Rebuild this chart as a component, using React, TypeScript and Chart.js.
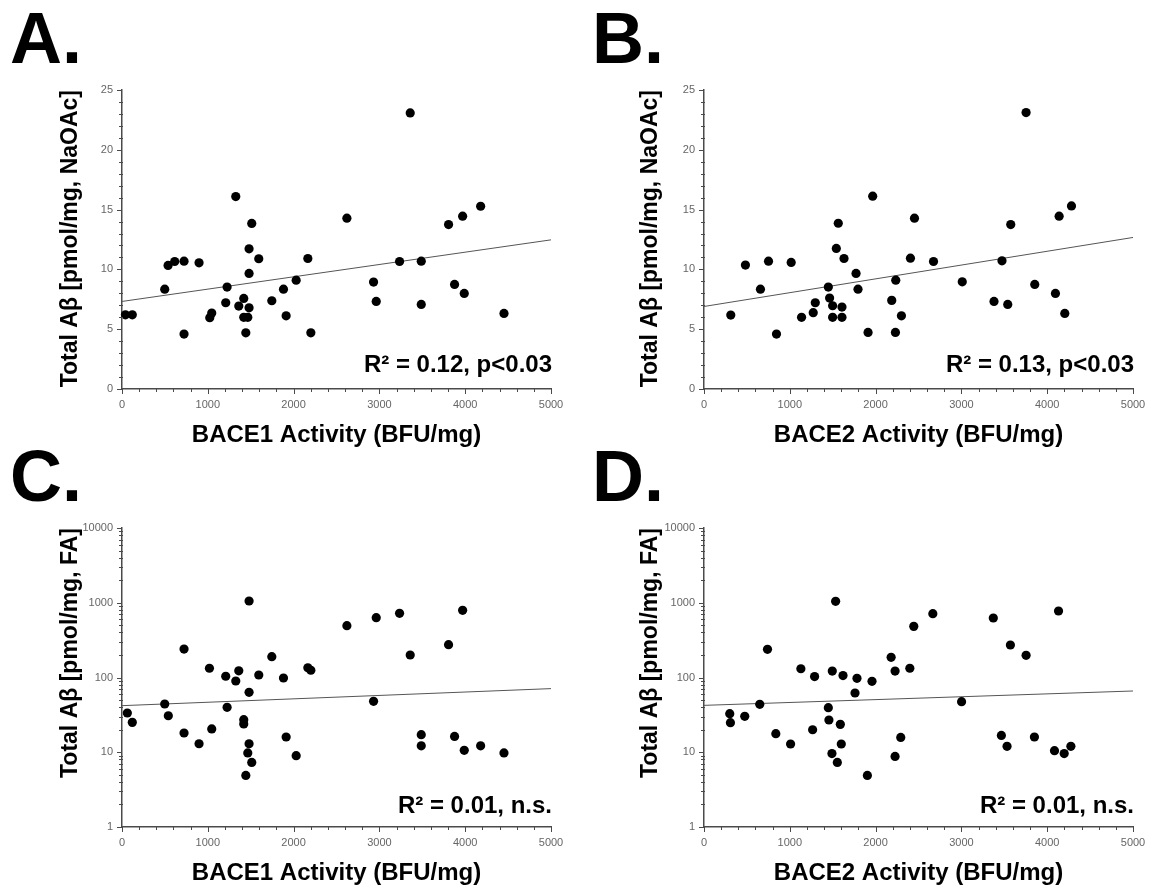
import React, { useEffect, useRef } from 'react';
import { Chart, registerables } from 'chart.js';

Chart.register(...registerables);

const FONT = '"Liberation Sans", Arial, Helvetica, sans-serif';
const AXIS_COLOR = '#4a4a4a';
const TICK_LABEL_COLOR = '#666666';
const LINE_COLOR = '#555555';

// ---------- Panel A: BACE1 activity vs total Aβ (NaOAc) ----------
const bace1A = [40, 120, 498, 537, 614, 723, 723, 898, 1023, 1046, 1209, 1225, 1326, 1361, 1419, 1419, 1466, 1443, 1481, 1481, 1481, 1512, 1594, 1746, 1882, 1913, 2030, 2166, 2201, 2621, 2932, 2963, 3235, 3359, 3488, 3488, 3806, 3876, 3970, 3989, 4180, 4452];
const abetaNaOAcA = [6.2, 6.2, 8.35, 10.33, 10.66, 10.69, 4.59, 10.55, 5.96, 6.35, 7.21, 8.52, 16.09, 6.93, 7.57, 5.99, 5.99, 4.7, 11.72, 9.66, 6.79, 13.84, 10.89, 7.38, 8.35, 6.12, 9.1, 10.91, 4.7, 14.28, 8.94, 7.32, 10.66, 23.08, 10.69, 7.07, 13.75, 8.74, 14.45, 7.99, 15.28, 6.32];
const fitA = [7.32, 12.47];

// ---------- Panel B: BACE2 activity vs total Aβ (NaOAc) ----------
const bace2B = [312, 483, 658, 752, 845, 1016, 1137, 1273, 1297, 1449, 1464, 1499, 1499, 1542, 1565, 1608, 1608, 1632, 1772, 1795, 1912, 1966, 2188, 2235, 2231, 2301, 2406, 2453, 2675, 3010, 3380, 3473, 3540, 3575, 3855, 3754, 4096, 4139, 4205, 4283];
const abetaNaOAcB = [6.18, 10.36, 8.35, 10.69, 4.59, 10.58, 5.99, 6.38, 7.21, 8.52, 7.6, 6.96, 5.99, 11.75, 13.86, 6.85, 5.99, 10.91, 9.66, 8.35, 4.73, 16.12, 7.41, 9.1, 4.73, 6.12, 10.94, 14.28, 10.66, 8.96, 7.32, 10.72, 7.07, 13.75, 8.74, 23.11, 7.99, 14.45, 6.32, 15.31];
const fitB = [6.9, 12.67];

// ---------- Panel C: BACE1 activity vs total Aβ (FA) ----------
const bace1C = [62, 120, 498, 540, 723, 723, 898, 1019, 1046, 1209, 1225, 1326, 1361, 1419, 1419, 1443, 1466, 1481, 1481, 1481, 1512, 1594, 1746, 1882, 1913, 2030, 2166, 2201, 2621, 2932, 2963, 3235, 3359, 3488, 3488, 3806, 3876, 3970, 3989, 4180, 4452];
const abetaFAC = [33.5, 25.1, 44.2, 30.8, 240, 18.1, 13.0, 133, 20.5, 104, 39.9, 89.8, 123, 27.3, 23.9, 4.9, 9.8, 1055, 63.3, 13.0, 7.3, 108, 190, 98.5, 16.0, 9.0, 135, 125, 493, 48, 631, 721, 200, 17.2, 12.2, 275, 16.3, 792, 10.6, 12.2, 9.8];
const fitC = [42, 71];

// ---------- Panel D: BACE2 activity vs total Aβ (FA) ----------
const bace2D = [300, 308, 475, 650, 740, 837, 1009, 1129, 1266, 1289, 1449, 1456, 1491, 1495, 1534, 1554, 1589, 1600, 1620, 1760, 1783, 1904, 1958, 2181, 2227, 2227, 2293, 2399, 2445, 2667, 3002, 3372, 3466, 3532, 3571, 3754, 3851, 4085, 4132, 4198, 4276];
const abetaFAD = [32.8, 24.9, 30.2, 43.8, 238, 17.7, 12.9, 131, 20.0, 103, 39.5, 27.0, 9.6, 122, 1045, 7.3, 23.6, 12.9, 106, 62, 97.5, 4.9, 89, 186, 122, 8.8, 15.8, 133, 483, 714, 47.5, 625, 16.8, 12.0, 272, 198, 16.0, 10.5, 776, 9.6, 12.0];
const fitD = [42.4, 66];

// ---------- Axis ticks ----------
const xRange = [0, 5000];
const xMajorTicks = [0, 1000, 2000, 3000, 4000, 5000];
const xMinorStep = 200;
const yLinearRange = [0, 25];
const yLinearMajorTicks = [0, 5, 10, 15, 20, 25];
const yLinearMinorStep = 1;
const yLogRange = [1, 10000];
const yLogMajorTicks = [1, 10, 100, 1000, 10000];

// ---------- Texts ----------
const panelLetters = ['A.', 'B.', 'C.', 'D.'];
const xTitles = ['BACE1 Activity (BFU/mg)', 'BACE2 Activity (BFU/mg)', 'BACE1 Activity (BFU/mg)', 'BACE2 Activity (BFU/mg)'];
const yTitles = ['Total A\u03B2 [pmol/mg, NaOAc]', 'Total A\u03B2 [pmol/mg, NaOAc]', 'Total A\u03B2 [pmol/mg, FA]', 'Total A\u03B2 [pmol/mg, FA]'];
const statTexts = ['R\u00B2 = 0.12, p<0.03', 'R\u00B2 = 0.13, p<0.03', 'R\u00B2 = 0.01, n.s.', 'R\u00B2 = 0.01, n.s.'];

const CANVAS_W = 575;
const CANVAS_H = 470;

type PanelDef = {
  xs: number[];
  ys: number[];
  fit: number[];
  log: boolean;
  letter: string;
  xTitle: string;
  yTitle: string;
  stat: string;
  left: number;
  top: number;
  yTitlePad: number;
  statOffset: number;
};

const panels: PanelDef[] = [
  { xs: bace1A, ys: abetaNaOAcA, fit: fitA, log: false, letter: panelLetters[0], xTitle: xTitles[0], yTitle: yTitles[0], stat: statTexts[0], left: 0, top: 0, yTitlePad: 57, statOffset: 17 },
  { xs: bace2B, ys: abetaNaOAcB, fit: fitB, log: false, letter: panelLetters[1], xTitle: xTitles[1], yTitle: yTitles[1], stat: statTexts[1], left: 582, top: 0, yTitlePad: 55, statOffset: 17 },
  { xs: bace1C, ys: abetaFAC, fit: fitC, log: true, letter: panelLetters[2], xTitle: xTitles[2], yTitle: yTitles[2], stat: statTexts[2], left: 0, top: 438, yTitlePad: 57, statOffset: 14 },
  { xs: bace2D, ys: abetaFAD, fit: fitD, log: true, letter: panelLetters[3], xTitle: xTitles[3], yTitle: yTitles[3], stat: statTexts[3], left: 582, top: 438, yTitlePad: 55, statOffset: 14 },
];

function yTickValues(log: boolean): { v: number; major: boolean }[] {
  const out: { v: number; major: boolean }[] = [];
  if (log) {
    for (let d = yLogRange[0]; d < yLogRange[1]; d *= 10) {
      for (let m = 1; m <= 9; m++) out.push({ v: d * m, major: m === 1 });
    }
    out.push({ v: yLogRange[1], major: true });
  } else {
    for (let v = yLinearRange[0]; v <= yLinearRange[1]; v += yLinearMinorStep) {
      out.push({ v, major: yLinearMajorTicks.includes(v) });
    }
  }
  return out;
}

function xTickValues(): { v: number; major: boolean }[] {
  const out: { v: number; major: boolean }[] = [];
  for (let v = xRange[0]; v <= xRange[1]; v += xMinorStep) {
    out.push({ v, major: xMajorTicks.includes(v) });
  }
  return out;
}

function makeDecor(p: PanelDef) {
  return {
    id: 'decor',
    afterDraw(chart: any) {
      const ctx = chart.ctx as CanvasRenderingContext2D;
      const { left, right, bottom } = chart.chartArea;
      const xs = chart.scales.x;
      const ys = chart.scales.y;
      ctx.save();
      ctx.strokeStyle = AXIS_COLOR;
      ctx.lineWidth = 1;
      // y tick marks
      for (const t of yTickValues(p.log)) {
        const y = Math.round(ys.getPixelForValue(t.v)) + 0.5;
        ctx.beginPath();
        ctx.moveTo(left - (t.major ? 5 : 3), y);
        ctx.lineTo(left + (t.major ? 0 : 1), y);
        ctx.stroke();
      }
      // x tick marks
      for (const t of xTickValues()) {
        const x = Math.round(xs.getPixelForValue(t.v)) + 0.5;
        ctx.beginPath();
        ctx.moveTo(x, bottom);
        ctx.lineTo(x, bottom + (t.major ? 5 : 3));
        ctx.stroke();
      }
      // panel letter
      ctx.fillStyle = '#000';
      ctx.textBaseline = 'alphabetic';
      ctx.textAlign = 'left';
      ctx.font = `bold 72px ${FONT}`;
      ctx.fillText(p.letter, 10, 63);
      // statistics text
      ctx.font = `bold 24px ${FONT}`;
      ctx.textAlign = 'right';
      ctx.fillText(p.stat, right + 1, bottom - p.statOffset);
      ctx.restore();
    },
  };
}

function Panel({ p }: { p: PanelDef }) {
  const ref = useRef<HTMLCanvasElement>(null);
  useEffect(() => {
    const canvas = ref.current;
    if (!canvas) return;
    const points = p.xs.map((x, i) => ({ x, y: p.ys[i] }));
    const fitLine = [
      { x: xRange[0], y: p.fit[0] },
      { x: xRange[1], y: p.fit[1] },
    ];
    const yMajor = p.log ? yLogMajorTicks : yLinearMajorTicks;
    const chart = new Chart(canvas, {
      type: 'scatter',
      data: {
        datasets: [
          {
            data: points,
            pointRadius: 4.6,
            pointHoverRadius: 4.6,
            backgroundColor: '#000',
            borderColor: '#000',
            borderWidth: 0,
            clip: false,
          } as any,
          {
            data: fitLine,
            showLine: true,
            pointRadius: 0,
            borderColor: LINE_COLOR,
            borderWidth: 1,
            backgroundColor: LINE_COLOR,
            clip: false,
          } as any,
        ],
      },
      options: {
        responsive: false,
        animation: false,
        events: [],
        layout: { padding: { top: 90, right: 24, left: 0, bottom: 0 } },
        plugins: {
          legend: { display: false },
          tooltip: { enabled: false },
          title: { display: false },
        },
        scales: {
          x: {
            type: 'linear',
            position: 'bottom',
            min: xRange[0],
            max: xRange[1],
            afterBuildTicks: (s: any) => {
              s.ticks = xMajorTicks.map((v) => ({ value: v }));
            },
            afterFit: (s: any) => {
              s.height = CANVAS_H - 389;
            },
            grid: { display: false, drawTicks: false },
            border: { display: true, color: AXIS_COLOR, width: 1.5 },
            ticks: {
              padding: 9,
              color: TICK_LABEL_COLOR,
              font: { family: FONT, size: 11 },
              maxRotation: 0,
              autoSkip: false,
              callback: (v: any) => String(v),
            },
            title: {
              display: true,
              text: p.xTitle,
              color: '#000',
              font: { family: FONT, size: 24, weight: 'bold' },
              padding: { top: 0, bottom: 20 },
            },
          },
          y: {
            type: p.log ? 'logarithmic' : 'linear',
            position: 'left',
            min: p.log ? yLogRange[0] : yLinearRange[0],
            max: p.log ? yLogRange[1] : yLinearRange[1],
            afterBuildTicks: (s: any) => {
              s.ticks = yMajor.map((v) => ({ value: v }));
            },
            afterFit: (s: any) => {
              s.width = 122;
            },
            grid: { display: false, drawTicks: false },
            border: { display: true, color: AXIS_COLOR, width: 1.5 },
            ticks: {
              padding: 9,
              color: TICK_LABEL_COLOR,
              font: { family: FONT, size: 11 },
              autoSkip: false,
              callback: (v: any) => String(v),
            },
            title: {
              display: true,
              text: p.yTitle,
              align: 'end',
              color: '#000',
              font: { family: FONT, size: 23, weight: 'bold' },
              padding: { top: p.yTitlePad, bottom: 0 },
            },
          },
        },
      } as any,
      plugins: [makeDecor(p)],
    });
    return () => chart.destroy();
  }, [p]);
  return (
    <canvas
      ref={ref}
      width={CANVAS_W}
      height={CANVAS_H}
      style={{ position: 'absolute', left: p.left, top: p.top, width: CANVAS_W, height: CANVAS_H }}
    />
  );
}

export default function App() {
  return (
    <div
      style={{
        position: 'fixed',
        left: 0,
        top: 0,
        width: 1151,
        height: 888,
        overflow: 'hidden',
        background: '#fff',
      }}
    >
      {panels.map((p, i) => (
        <Panel key={i} p={p} />
      ))}
    </div>
  );
}
